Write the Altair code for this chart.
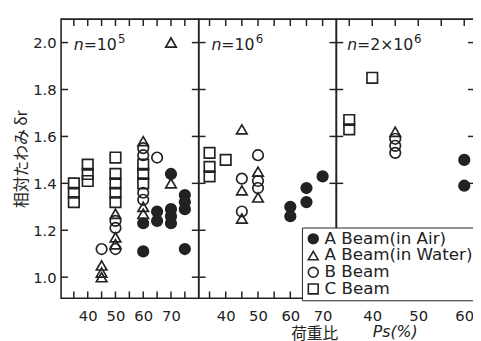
import altair as alt
import pandas as pd

INK = "#222222"
FONT = "DejaVu Sans"
JFONT = "Noto Sans CJK JP"

series_names = ["A Beam(in Air)", "A Beam(in Water)", "B Beam", "C Beam"]
series_shapes = ["circle", "triangle-up", "circle", "square"]
series_fills = [INK, "transparent", "transparent", "transparent"]
panel_texts = ["=10", "=10", "=2×10"]
panel_exps = ["5", "6", "6"]

# ---- panel 1 : n = 10^5 ----
p1_air_x = [60, 60, 65, 65, 70, 70, 70, 70, 75, 75, 75, 75]
p1_air_y = [1.23, 1.11, 1.28, 1.24, 1.44, 1.29, 1.26, 1.23, 1.35, 1.32, 1.29, 1.12]
p1_wat_x = [45, 45, 45, 50, 50, 50, 60, 60, 60, 70, 70]
p1_wat_y = [1.05, 1.02, 1.00, 1.27, 1.17, 1.14, 1.58, 1.30, 1.27, 1.40, 2.00]
p1_b_x = [45, 50, 50, 50, 60, 60, 60, 60, 65]
p1_b_y = [1.12, 1.24, 1.21, 1.12, 1.55, 1.52, 1.36, 1.33, 1.51]
p1_c_x = [35, 35, 35, 40, 40, 40, 50, 50, 50, 50, 50, 60, 60, 60]
p1_c_y = [1.40, 1.36, 1.32, 1.48, 1.44, 1.41, 1.51, 1.44, 1.40, 1.36, 1.32, 1.48, 1.44, 1.40]

# ---- panel 2 : n = 10^6 ----
p2_air_x = [60, 60, 65, 65, 70]
p2_air_y = [1.30, 1.26, 1.38, 1.32, 1.43]
p2_wat_x = [45, 45, 45, 50, 50]
p2_wat_y = [1.63, 1.37, 1.25, 1.45, 1.34]
p2_b_x = [45, 45, 50, 50, 50]
p2_b_y = [1.42, 1.28, 1.52, 1.41, 1.38]
p2_c_x = [35, 35, 35, 40]
p2_c_y = [1.53, 1.47, 1.43, 1.50]

# ---- panel 3 : n = 2x10^6 ----
p3_air_x = [60, 60]
p3_air_y = [1.50, 1.39]
p3_wat_x = [45]
p3_wat_y = [1.62]
p3_b_x = [45, 45, 45]
p3_b_y = [1.59, 1.56, 1.53]
p3_c_x = [35, 35, 40]
p3_c_y = [1.67, 1.63, 1.85]

y_ticks = [1.0, 1.2, 1.4, 1.6, 1.8, 2.0]
x_ticks = [[35, 40, 45, 50, 55, 60, 65, 70, 75],
           [35, 40, 45, 50, 55, 60, 65, 70],
           [35, 40, 45, 50, 55, 60]]
x_labels = [[40, 50, 60, 70], [40, 50, 60, 70], [40, 50, 60]]
x_domains = [[30.4, 80.0], [31.65, 74.25], [32.2, 62.33]]
widths = [140, 140, 141]
H = 284
Y_DOMAIN = [0.91, 2.10]
TL = 7


def frame(xs, ys, name):
    return pd.DataFrame({"Ps": xs, "dr": ys, "series": [name] * len(xs)})


panel_data = [
    pd.concat([frame(p1_c_x, p1_c_y, series_names[3]), frame(p1_b_x, p1_b_y, series_names[2]),
               frame(p1_wat_x, p1_wat_y, series_names[1]), frame(p1_air_x, p1_air_y, series_names[0])]),
    pd.concat([frame(p2_c_x, p2_c_y, series_names[3]), frame(p2_b_x, p2_b_y, series_names[2]),
               frame(p2_wat_x, p2_wat_y, series_names[1]), frame(p2_air_x, p2_air_y, series_names[0])]),
    pd.concat([frame(p3_c_x, p3_c_y, series_names[3]), frame(p3_b_x, p3_b_y, series_names[2]),
               frame(p3_wat_x, p3_wat_y, series_names[1]), frame(p3_air_x, p3_air_y, series_names[0])]),
]

legend = alt.Legend(orient="none", legendX=245, legendY=212, title=None)


def make_panel(i):
    W = widths[i]
    xd = alt.X("Ps:Q", scale=alt.Scale(domain=x_domains[i], nice=False, zero=False),
               axis=alt.Axis(values=x_labels[i], ticks=False, domain=False, grid=False, title=None,
                             labelFontSize=15, labelPadding=11, labelColor=INK, labelFont=FONT,
                             labelFlush=False))
    if i == 0:
        yax = alt.Axis(values=y_ticks, format=".1f", ticks=False, domain=False, grid=False,
                       title="相対たわみ  δr", titleFont=JFONT, titleFontSize=16,
                       titleFontWeight="normal", titleColor=INK, titlePadding=3,
                       labelFontSize=15, labelPadding=5, labelColor=INK, labelFont=FONT)
    else:
        yax = None
    yd = alt.Y("dr:Q", scale=alt.Scale(domain=Y_DOMAIN, nice=False, zero=False), axis=yax)

    xt = pd.DataFrame({"Ps": x_ticks[i]})
    yt = pd.DataFrame({"dr": y_ticks})
    rule = dict(color=INK, strokeWidth=1.5)
    top = alt.Chart(xt).mark_rule(**rule).encode(x=xd, y=alt.value(0), y2=alt.value(TL))
    bot = alt.Chart(xt).mark_rule(**rule).encode(x=xd, y=alt.value(H), y2=alt.value(H - TL))
    lef = alt.Chart(yt).mark_rule(**rule).encode(y=yd, x=alt.value(0), x2=alt.value(TL))
    rig = alt.Chart(yt).mark_rule(**rule).encode(y=yd, x=alt.value(W), x2=alt.value(W - TL))

    pts = alt.Chart(panel_data[i]).mark_point(filled=True, size=115, strokeWidth=1.7, opacity=1).encode(
        x=xd, y=yd,
        shape=alt.Shape("series:N", scale=alt.Scale(domain=series_names, range=series_shapes), legend=legend),
        fill=alt.Fill("series:N", scale=alt.Scale(domain=series_names, range=series_fills), legend=legend),
        stroke=alt.Stroke("series:N", scale=alt.Scale(domain=series_names, range=[INK] * 4), legend=legend),
    )
    nx = 13 if i < 2 else 11
    n_txt = alt.Chart(pd.DataFrame({"t": ["n"]})).mark_text(
        font=FONT, fontSize=16, fontStyle="italic", align="left", baseline="alphabetic", color=INK
    ).encode(text="t:N", x=alt.value(nx), y=alt.value(31))
    v_txt = alt.Chart(pd.DataFrame({"t": [panel_texts[i]]})).mark_text(
        font=FONT, fontSize=16, align="left", baseline="alphabetic", color=INK
    ).encode(text="t:N", x=alt.value(nx + 10), y=alt.value(31))
    ex = nx + 10 + (35 if i < 2 else 58)
    e_txt = alt.Chart(pd.DataFrame({"t": [panel_exps[i]]})).mark_text(
        font=FONT, fontSize=12, align="left", baseline="alphabetic", color=INK
    ).encode(text="t:N", x=alt.value(ex), y=alt.value(24))
    layers = [top, bot, lef, rig, pts, n_txt, v_txt, e_txt]
    if i == 2:
        t1 = alt.Chart(pd.DataFrame({"t": ["荷重比"]})).mark_text(
            font=JFONT, fontSize=16, align="left", baseline="middle", color=INK
        ).encode(text="t:N", x=alt.value(-46), y=alt.value(H + 36))
        t2 = alt.Chart(pd.DataFrame({"t": ["Ps(%)"]})).mark_text(
            font=FONT, fontSize=16, fontStyle="italic", align="left", baseline="middle", color=INK
        ).encode(text="t:N", x=alt.value(37), y=alt.value(H + 34))
        layers += [t1, t2]
    return alt.layer(*layers).properties(width=W, height=H)


chart = alt.hconcat(make_panel(0), make_panel(1), make_panel(2), spacing=0, bounds="flush").resolve_scale(
    x="independent", y="independent", shape="shared", fill="shared", stroke="shared"
).properties(
    autosize=alt.AutoSizeParams(type="none"),
    padding={"left": 54, "top": 6, "right": 419, "bottom": 327},
    background="white",
).configure_view(stroke=INK, strokeWidth=1.6).configure_legend(
    fillColor="white", strokeColor=INK, padding=3, labelFont=FONT, labelFontSize=17,
    labelColor=INK, symbolStrokeWidth=1.6, symbolSize=100,
    rowPadding=-1, labelOffset=3, cornerRadius=0
)

chart.save("out.html", embed_options={"renderer": "svg", "actions": False})
